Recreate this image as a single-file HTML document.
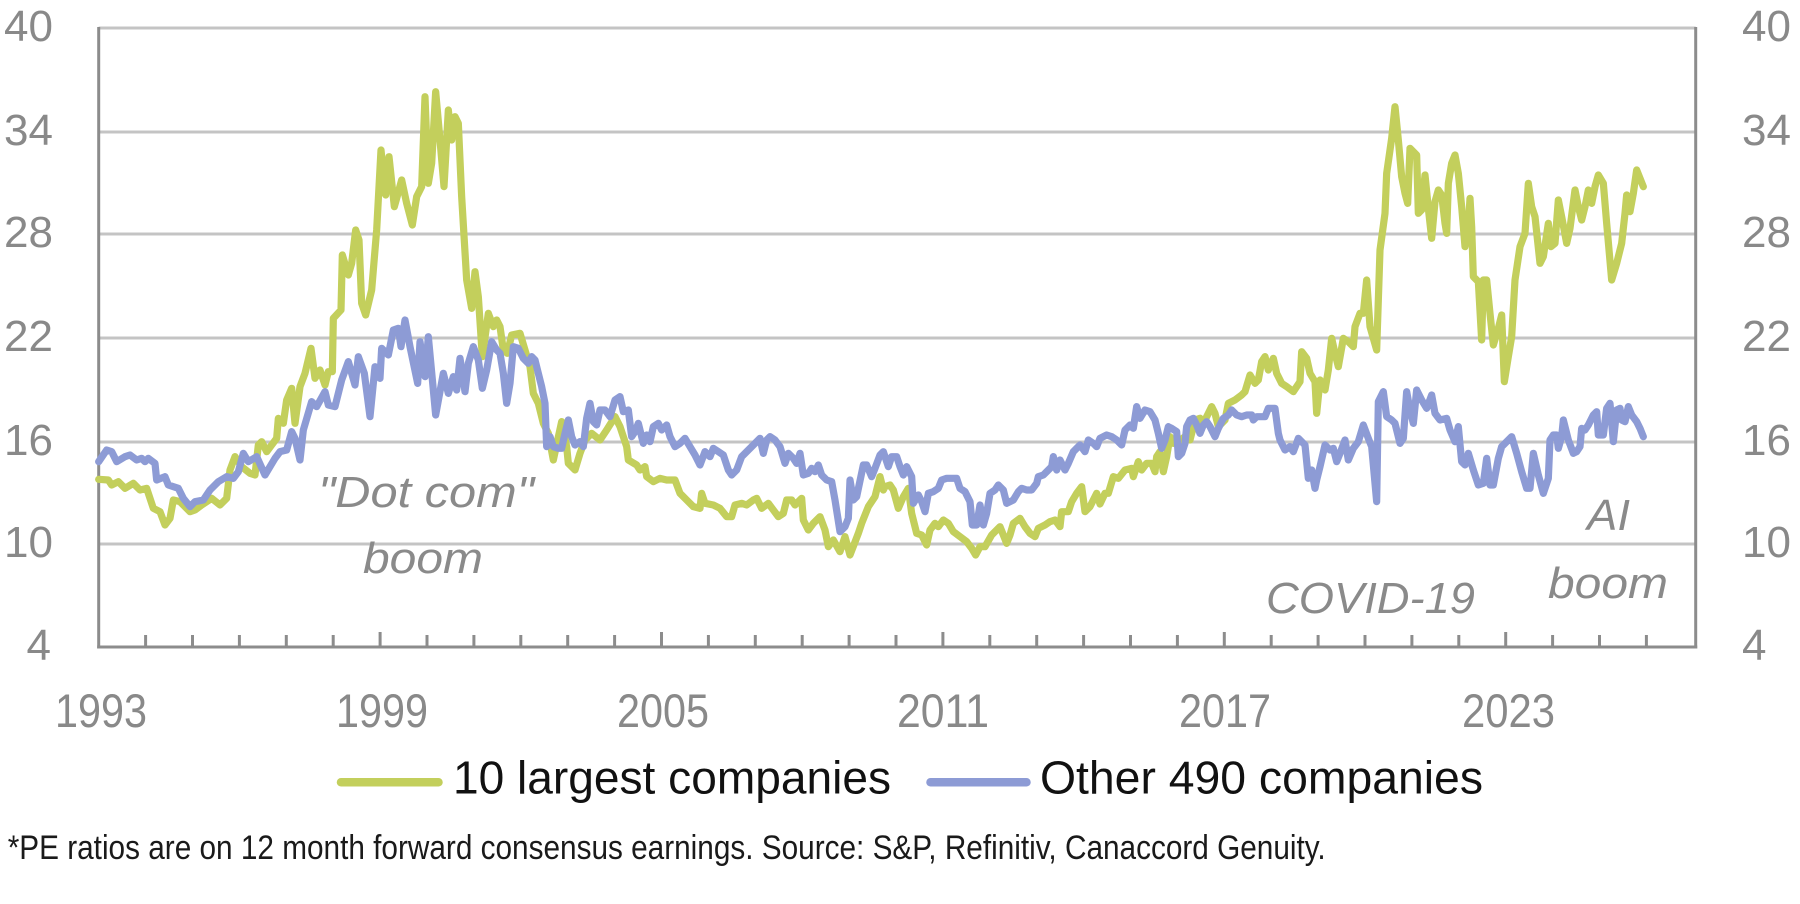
<!DOCTYPE html>
<html>
<head>
<meta charset="utf-8">
<style>
  html, body { margin: 0; padding: 0; background: #ffffff; }
  svg { display: block; }
  .ax { font-family: "Liberation Sans", sans-serif; fill: #898989; }
  .ann { font-family: "Liberation Sans", sans-serif; font-style: italic; fill: #8a8a8a; font-size: 44px; }
  .leg { font-family: "Liberation Sans", sans-serif; fill: #111111; font-size: 46px; }
  .foot { font-family: "Liberation Sans", sans-serif; fill: #1a1a1a; font-size: 34px; }
</style>
</head>
<body>
<svg width="1800" height="904" viewBox="0 0 1800 904" xmlns="http://www.w3.org/2000/svg">
  <rect x="0" y="0" width="1800" height="904" fill="#ffffff"/>

  <!-- gridlines -->
  <g stroke="#c4c4c4" stroke-width="3">
    <line x1="98.7" y1="28" x2="1695.7" y2="28"/>
    <line x1="98.7" y1="132" x2="1695.7" y2="132"/>
    <line x1="98.7" y1="234" x2="1695.7" y2="234"/>
    <line x1="98.7" y1="338" x2="1695.7" y2="338"/>
    <line x1="98.7" y1="442" x2="1695.7" y2="442"/>
    <line x1="98.7" y1="544" x2="1695.7" y2="544"/>
  </g>

  <!-- axes -->
  <g stroke="#8c8c8c" stroke-width="3">
    <line x1="98.7" y1="27" x2="98.7" y2="648.5"/>
    <line x1="1695.7" y1="27" x2="1695.7" y2="648.5"/>
    <line x1="97.2" y1="647" x2="1697.2" y2="647"/>
    <!-- ticks -->
    <line x1="145.6" y1="635" x2="145.6" y2="647"/>
    <line x1="192.5" y1="635" x2="192.5" y2="647"/>
    <line x1="239.4" y1="635" x2="239.4" y2="647"/>
    <line x1="286.3" y1="635" x2="286.3" y2="647"/>
    <line x1="333.2" y1="635" x2="333.2" y2="647"/>
    <line x1="380.1" y1="632" x2="380.1" y2="647"/>
    <line x1="427.0" y1="635" x2="427.0" y2="647"/>
    <line x1="473.9" y1="635" x2="473.9" y2="647"/>
    <line x1="520.8" y1="635" x2="520.8" y2="647"/>
    <line x1="567.7" y1="635" x2="567.7" y2="647"/>
    <line x1="614.6" y1="635" x2="614.6" y2="647"/>
    <line x1="661.5" y1="632" x2="661.5" y2="647"/>
    <line x1="708.4" y1="635" x2="708.4" y2="647"/>
    <line x1="755.3" y1="635" x2="755.3" y2="647"/>
    <line x1="802.2" y1="635" x2="802.2" y2="647"/>
    <line x1="849.1" y1="635" x2="849.1" y2="647"/>
    <line x1="896.0" y1="635" x2="896.0" y2="647"/>
    <line x1="942.9" y1="632" x2="942.9" y2="647"/>
    <line x1="989.8" y1="635" x2="989.8" y2="647"/>
    <line x1="1036.7" y1="635" x2="1036.7" y2="647"/>
    <line x1="1083.6" y1="635" x2="1083.6" y2="647"/>
    <line x1="1130.5" y1="635" x2="1130.5" y2="647"/>
    <line x1="1177.4" y1="635" x2="1177.4" y2="647"/>
    <line x1="1224.3" y1="632" x2="1224.3" y2="647"/>
    <line x1="1271.2" y1="635" x2="1271.2" y2="647"/>
    <line x1="1318.1" y1="635" x2="1318.1" y2="647"/>
    <line x1="1365.0" y1="635" x2="1365.0" y2="647"/>
    <line x1="1411.9" y1="635" x2="1411.9" y2="647"/>
    <line x1="1458.8" y1="635" x2="1458.8" y2="647"/>
    <line x1="1505.7" y1="632" x2="1505.7" y2="647"/>
    <line x1="1552.6" y1="635" x2="1552.6" y2="647"/>
    <line x1="1599.5" y1="635" x2="1599.5" y2="647"/>
    <line x1="1646.4" y1="635" x2="1646.4" y2="647"/>
  </g>

  <!-- left y labels -->
  <g class="ax" font-size="44" text-anchor="end">
    <text x="53" y="41">40</text>
    <text x="53" y="145">34</text>
    <text x="53" y="247">28</text>
    <text x="53" y="351">22</text>
    <text x="53" y="455">16</text>
    <text x="53" y="557">10</text>
    <text x="51" y="660">4</text>
  </g>
  <!-- right y labels -->
  <g class="ax" font-size="44" text-anchor="start">
    <text x="1742" y="41">40</text>
    <text x="1742" y="145">34</text>
    <text x="1742" y="247">28</text>
    <text x="1742" y="351">22</text>
    <text x="1742" y="455">16</text>
    <text x="1742" y="557">10</text>
    <text x="1742" y="660">4</text>
  </g>
  <!-- x labels -->
  <g class="ax" font-size="47">
    <text x="55" y="727" textLength="92" lengthAdjust="spacingAndGlyphs">1993</text>
    <text x="336" y="727" textLength="92" lengthAdjust="spacingAndGlyphs">1999</text>
    <text x="617" y="727" textLength="92" lengthAdjust="spacingAndGlyphs">2005</text>
    <text x="897" y="727" textLength="92" lengthAdjust="spacingAndGlyphs">2011</text>
    <text x="1179" y="727" textLength="92" lengthAdjust="spacingAndGlyphs">2017</text>
    <text x="1462" y="727" textLength="93" lengthAdjust="spacingAndGlyphs">2023</text>
  </g>

  <!-- annotations -->
  <text class="ann" x="318" y="507" textLength="216" lengthAdjust="spacingAndGlyphs">"Dot com"</text>
  <text class="ann" x="363" y="573" textLength="120" lengthAdjust="spacingAndGlyphs">boom</text>
  <text class="ann" x="1266" y="613" textLength="209" lengthAdjust="spacingAndGlyphs">COVID-19</text>
  <text class="ann" x="1587" y="530" textLength="43" lengthAdjust="spacingAndGlyphs">AI</text>
  <text class="ann" x="1548" y="598" textLength="120" lengthAdjust="spacingAndGlyphs">boom</text>

  <!-- series (coords at 3x scale) -->
  <g transform="scale(0.3333333)" fill="none" stroke-width="21.6" stroke-linejoin="round" stroke-linecap="round">
    <polyline stroke="#c3cf5c" points="296,1438 325,1440 335,1455 355,1445 375,1465 400,1450 420,1470 440,1465 460,1525 480,1535 495,1575 510,1555 520,1500 540,1505 570,1535 585,1530 605,1515 635,1495 660,1515 680,1495 690,1410 705,1370 725,1400 750,1420 765,1425 775,1335 785,1325 800,1355 815,1335 830,1315 835,1255 850,1270 860,1200 875,1165 885,1270 900,1160 915,1120 933,1045 945,1135 960,1110 975,1155 985,1115 997,1115 1000,955 1023,930 1027,765 1045,825 1055,790 1067,690 1077,720 1085,910 1097,945 1115,870 1130,690 1143,450 1157,585 1167,470 1183,620 1190,595 1205,540 1220,610 1237,675 1250,590 1265,560 1275,290 1285,550 1295,490 1307,275 1320,420 1332,560 1345,330 1355,420 1365,350 1375,370 1385,590 1400,840 1415,925 1425,815 1435,890 1447,1070 1465,940 1480,980 1490,960 1500,980 1510,1050 1522,1060 1535,1005 1560,1000 1575,1050 1590,1100 1600,1180 1615,1210 1630,1270 1645,1300 1660,1380 1685,1265 1700,1340 1705,1390 1725,1410 1740,1360 1755,1320 1775,1300 1800,1320 1820,1290 1845,1250 1860,1280 1880,1340 1885,1380 1910,1395 1920,1410 1935,1400 1940,1430 1960,1445 1980,1435 2000,1440 2025,1440 2040,1480 2060,1500 2080,1520 2100,1525 2105,1480 2115,1510 2140,1515 2160,1525 2180,1550 2195,1550 2205,1515 2225,1510 2240,1515 2260,1500 2270,1495 2285,1525 2305,1510 2320,1530 2335,1550 2350,1540 2360,1500 2375,1500 2385,1515 2405,1495 2410,1560 2425,1590 2440,1570 2460,1550 2475,1590 2485,1640 2500,1620 2520,1655 2535,1610 2550,1665 2575,1600 2585,1570 2605,1520 2625,1490 2640,1430 2650,1470 2655,1460 2670,1455 2680,1470 2695,1525 2710,1490 2725,1465 2735,1540 2750,1600 2765,1605 2780,1635 2790,1590 2805,1570 2815,1580 2830,1560 2845,1570 2860,1595 2880,1610 2900,1625 2915,1645 2927,1665 2940,1640 2955,1640 2975,1605 3000,1580 3010,1605 3020,1630 3030,1605 3040,1570 3060,1555 3075,1580 3090,1600 3105,1610 3115,1585 3135,1575 3150,1565 3165,1560 3180,1580 3185,1535 3205,1535 3215,1505 3230,1480 3245,1460 3255,1535 3270,1520 3290,1480 3300,1512 3315,1480 3325,1480 3340,1430 3355,1435 3375,1410 3395,1405 3400,1430 3415,1385 3425,1410 3440,1390 3455,1390 3465,1415 3470,1370 3480,1355 3490,1415 3500,1370 3510,1310 3520,1330 3535,1325 3555,1310 3570,1320 3585,1260 3600,1255 3610,1270 3625,1240 3635,1220 3645,1240 3655,1280 3675,1260 3685,1210 3705,1200 3725,1185 3735,1175 3750,1125 3765,1150 3775,1140 3785,1085 3795,1070 3805,1110 3820,1075 3830,1120 3845,1150 3860,1160 3880,1175 3900,1145 3905,1055 3920,1075 3930,1120 3945,1145 3950,1240 3960,1140 3975,1170 3985,1110 3995,1015 4005,1060 4015,1100 4030,1015 4045,1025 4060,1040 4065,980 4080,940 4090,940 4100,840 4110,980 4130,1050 4140,750 4155,640 4160,520 4175,415 4185,320 4195,420 4205,530 4215,580 4223,610 4230,445 4240,455 4250,465 4255,640 4265,630 4275,525 4285,625 4295,715 4305,605 4315,570 4325,585 4335,670 4340,700 4345,550 4355,490 4365,465 4375,520 4385,620 4395,740 4405,680 4410,595 4415,680 4420,830 4435,845 4445,1020 4450,840 4460,840 4470,940 4480,1035 4495,985 4505,945 4513,1145 4525,1070 4535,1010 4545,840 4560,740 4575,700 4585,550 4595,620 4605,650 4620,790 4630,770 4645,670 4653,740 4665,730 4675,600 4685,650 4700,730 4710,685 4725,570 4735,620 4745,660 4755,620 4765,570 4775,610 4785,560 4795,525 4810,550 4820,670 4835,840 4850,790 4865,730 4875,640 4880,585 4890,635 4900,580 4910,510 4920,535 4930,560"/>
    <polyline stroke="#8d9bd5" points="296,1385 320,1350 335,1355 350,1385 375,1370 390,1365 410,1380 425,1375 435,1385 445,1375 465,1390 470,1440 495,1430 505,1455 535,1465 550,1495 570,1520 585,1505 610,1500 630,1470 655,1445 680,1430 700,1435 715,1415 730,1360 745,1385 770,1370 795,1425 825,1375 840,1355 860,1350 875,1295 885,1315 900,1380 910,1290 935,1205 950,1220 975,1175 985,1215 1005,1220 1025,1140 1045,1085 1065,1155 1075,1070 1093,1120 1110,1250 1125,1100 1140,1135 1145,1045 1165,1065 1180,990 1195,985 1203,1040 1215,960 1230,1040 1253,1150 1260,1025 1275,1130 1285,1010 1307,1245 1330,1120 1345,1180 1360,1130 1370,1170 1380,1075 1395,1175 1405,1090 1420,1040 1435,1080 1447,1165 1460,1110 1475,1025 1490,1050 1500,1060 1510,1120 1520,1210 1530,1150 1540,1040 1555,1045 1570,1075 1585,1090 1595,1070 1605,1080 1615,1120 1625,1160 1635,1210 1640,1340 1650,1310 1660,1340 1675,1345 1685,1345 1695,1300 1705,1260 1715,1310 1725,1335 1740,1325 1750,1340 1760,1255 1770,1210 1780,1265 1790,1275 1800,1230 1815,1230 1830,1250 1845,1200 1860,1190 1870,1235 1885,1230 1895,1310 1905,1295 1915,1270 1930,1330 1940,1305 1950,1325 1960,1280 1975,1270 1985,1290 2000,1275 2010,1310 2025,1340 2040,1330 2055,1315 2070,1340 2085,1365 2100,1395 2115,1355 2130,1370 2140,1345 2155,1355 2170,1365 2185,1410 2195,1425 2210,1410 2225,1370 2240,1355 2255,1340 2270,1325 2280,1315 2290,1360 2300,1320 2310,1310 2325,1320 2340,1340 2355,1390 2365,1360 2380,1375 2390,1390 2400,1360 2410,1425 2425,1420 2435,1405 2445,1415 2455,1395 2465,1425 2480,1440 2495,1445 2505,1500 2520,1595 2535,1580 2545,1555 2550,1440 2560,1500 2570,1490 2590,1395 2600,1395 2615,1430 2625,1405 2640,1365 2650,1355 2655,1370 2665,1400 2675,1370 2690,1370 2700,1400 2710,1425 2720,1400 2735,1430 2740,1510 2755,1485 2765,1505 2775,1535 2785,1480 2800,1475 2815,1465 2825,1440 2840,1435 2855,1435 2870,1435 2880,1465 2895,1475 2910,1505 2917,1575 2930,1575 2940,1515 2950,1575 2960,1540 2970,1480 2985,1470 2995,1455 3010,1470 3020,1510 3030,1505 3040,1500 3055,1475 3065,1465 3080,1470 3095,1470 3110,1450 3115,1430 3130,1425 3140,1415 3155,1400 3160,1370 3170,1410 3180,1380 3195,1410 3205,1390 3220,1355 3230,1345 3240,1335 3255,1355 3265,1320 3280,1330 3290,1340 3300,1315 3320,1305 3335,1310 3350,1320 3365,1335 3375,1290 3390,1275 3400,1285 3410,1220 3420,1255 3435,1230 3450,1235 3465,1260 3475,1300 3485,1345 3495,1320 3505,1280 3515,1285 3530,1295 3535,1370 3545,1360 3555,1330 3560,1280 3570,1260 3580,1255 3590,1275 3600,1300 3610,1275 3620,1265 3630,1280 3645,1310 3655,1285 3670,1255 3685,1245 3695,1230 3710,1245 3725,1250 3740,1245 3755,1245 3760,1260 3770,1250 3785,1250 3795,1250 3805,1225 3825,1225 3835,1300 3840,1320 3855,1350 3870,1340 3880,1355 3895,1315 3915,1335 3925,1435 3935,1410 3945,1465 3950,1440 3960,1400 3975,1335 3990,1350 4000,1345 4010,1385 4020,1360 4035,1320 4045,1380 4060,1345 4075,1325 4090,1275 4105,1315 4115,1340 4130,1505 4135,1205 4150,1175 4160,1250 4175,1260 4185,1270 4200,1330 4210,1315 4220,1175 4230,1230 4240,1270 4250,1170 4265,1200 4280,1225 4295,1185 4305,1240 4320,1260 4340,1255 4350,1290 4365,1325 4375,1280 4385,1385 4395,1395 4405,1360 4420,1410 4435,1455 4450,1450 4460,1375 4470,1455 4480,1455 4495,1375 4505,1340 4520,1325 4535,1310 4550,1360 4565,1415 4580,1465 4590,1465 4600,1360 4615,1425 4630,1480 4645,1435 4650,1320 4660,1305 4670,1305 4675,1345 4685,1310 4690,1260 4705,1320 4720,1360 4730,1355 4740,1340 4745,1285 4755,1290 4765,1275 4780,1245 4790,1235 4795,1305 4810,1305 4820,1225 4830,1210 4840,1325 4850,1230 4860,1225 4865,1260 4875,1265 4885,1220 4895,1245 4910,1265 4920,1285 4930,1310"/>
  </g>

  <!-- legend -->
  <line x1="341" y1="782.3" x2="438.5" y2="782.3" stroke="#c3cf5c" stroke-width="8.5" stroke-linecap="round"/>
  <text class="leg" x="453" y="793.5" textLength="438" lengthAdjust="spacingAndGlyphs">10 largest companies</text>
  <line x1="930.5" y1="782.3" x2="1026.5" y2="782.3" stroke="#8d9bd5" stroke-width="8.5" stroke-linecap="round"/>
  <text class="leg" x="1040" y="793.5" textLength="443" lengthAdjust="spacingAndGlyphs">Other 490 companies</text>

  <!-- footnote -->
  <text class="foot" x="7.7" y="859" textLength="1318" lengthAdjust="spacingAndGlyphs">*PE ratios are on 12 month forward consensus earnings. Source: S&amp;P, Refinitiv, Canaccord Genuity.</text>
</svg>
</body>
</html>
